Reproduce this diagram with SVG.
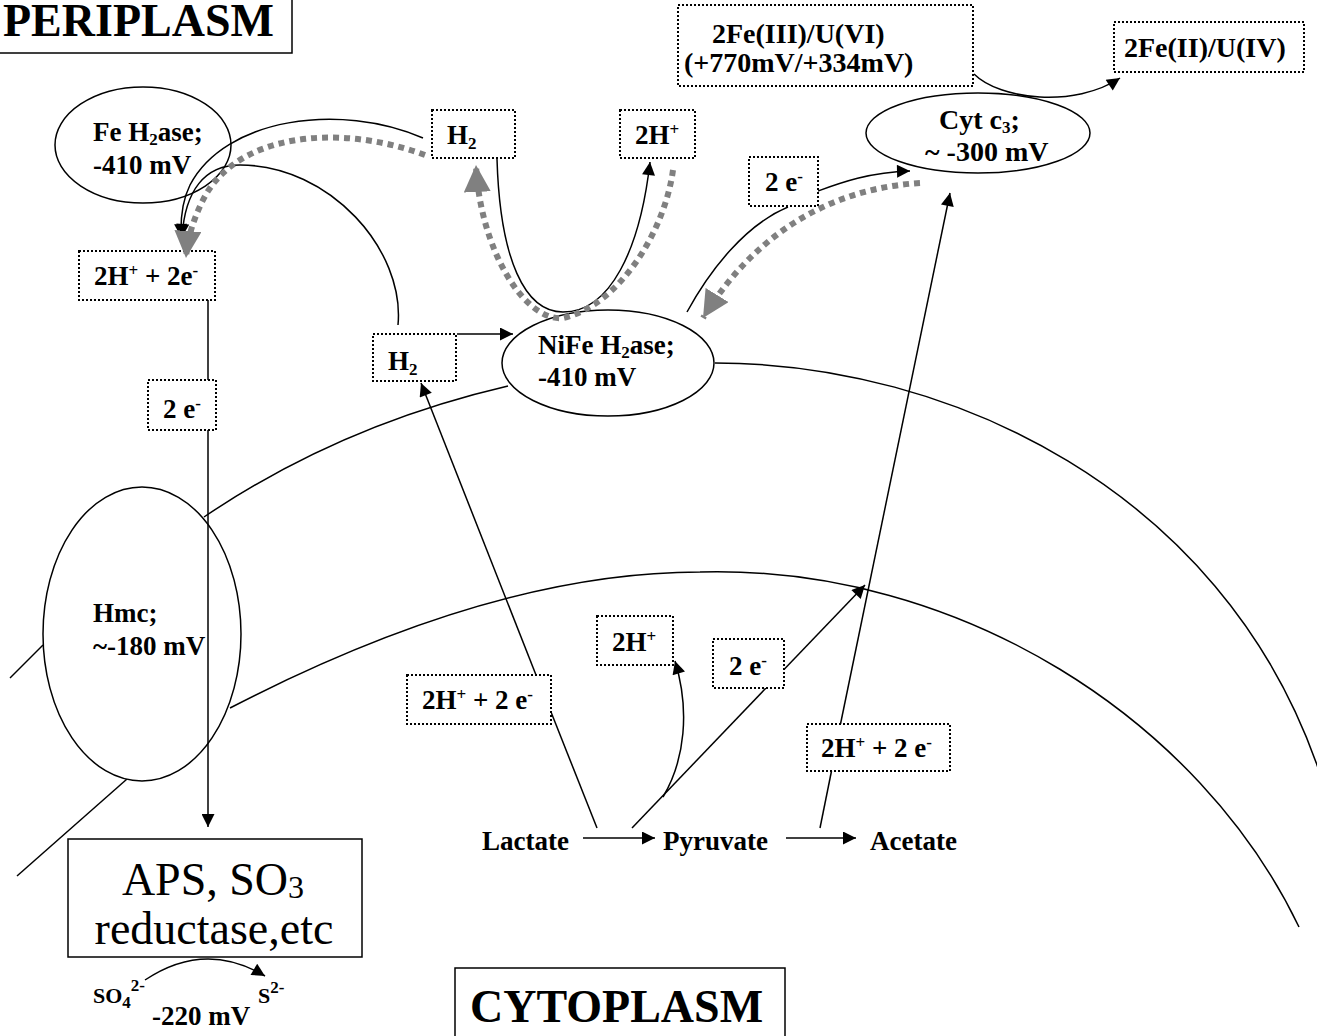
<svg xmlns="http://www.w3.org/2000/svg" width="1317" height="1036" viewBox="0 0 1317 1036">
<style>
text{font-family:"Liberation Serif","Times New Roman",serif;font-weight:bold;font-size:27px;fill:#000}
.big{font-size:46px}
.reg{font-weight:normal;font-size:46px}
.mid{font-size:28px}
.small{font-size:22px}
.s{font-size:17px}
.solid{fill:#fff;stroke:#000;stroke-width:1.5}
.dot{fill:#fff;stroke:#000;stroke-width:2;stroke-dasharray:2 2}
.ell{fill:#fff;stroke:#000;stroke-width:1.5}
.mem{fill:none;stroke:#000;stroke-width:1.5}
.ln{fill:none;stroke:#000;stroke-width:1.5}
.arr{marker-end:url(#ah)}
.grey{fill:none;stroke:#808080;stroke-width:6;stroke-dasharray:6 5;marker-end:url(#gh)}
</style>
<defs>
<marker id="ah" viewBox="0 0 10 10" refX="10" refY="5" markerWidth="15" markerHeight="13" markerUnits="userSpaceOnUse" orient="auto"><path d="M0,0 L10,5 L0,10 z" fill="#000"/></marker>
<marker id="gh" viewBox="0 0 10 10" refX="10" refY="5" markerWidth="27" markerHeight="27" markerUnits="userSpaceOnUse" orient="auto"><path d="M0,0 L10,5 L0,10 z" fill="#808080"/></marker>
</defs>
<rect width="1317" height="1036" fill="#fff"/>
<g id="membranes">
<path class="mem" d="M10,678 L43,645"/>
<path class="mem" d="M204,517 Q340,425 508,386"/>
<path class="mem" d="M715,363 C950,363 1220,490 1317,765 L1330,800"/>
<path class="mem" d="M17,876 L127,779"/>
<path class="mem" d="M230,708 C400,620 560,572 700,572 C960,565 1200,720 1299,927"/>
</g>
<g id="fe-h2ase"><ellipse class="ell" cx="143" cy="145" rx="88" ry="58"/>
<text x="93" y="141">Fe H<tspan class="s" dy="4">2</tspan><tspan dy="-4">ase;</tspan></text>
<text x="93" y="174">-410 mV</text></g>
<g id="nife-h2ase"><ellipse class="ell" cx="608" cy="363" rx="106" ry="53"/>
<text x="538" y="354">NiFe H<tspan class="s" dy="4">2</tspan><tspan dy="-4">ase;</tspan></text>
<text x="538" y="386">-410 mV</text></g>
<g id="cyt-c3"><ellipse class="ell" cx="978" cy="133" rx="112" ry="40"/>
<text class="mid" x="939" y="129">Cyt c<tspan class="s" dy="4">3</tspan><tspan dy="-4">;</tspan></text>
<text class="mid" x="925" y="161">~ -300 mV</text></g>
<g id="hmc"><ellipse class="ell" cx="142" cy="634" rx="99" ry="147"/>
<text x="93" y="622">Hmc;</text>
<text x="93" y="655">~-180 mV</text></g>
<g id="connectors-through">
<path class="ln" d="M208,300 L208,380"/>
<path class="ln arr" d="M208,430 L208,827"/>
<path class="ln" d="M597,828 L551,712"/>
<path class="ln arr" d="M536,675 L421,383"/>
<path class="ln" d="M632,828 L766,688"/>
<path class="ln arr" d="M784,669.5 L865,585"/>
<path class="ln" d="M820,828 L831.5,771"/>
<path class="ln arr" d="M840.5,724 L950,193"/>
<path class="ln" d="M687,312 C710,270 745,225 788,207"/>
<path class="ln arr" d="M818,191 C840,183 870,172 910,171"/>
</g>
<g id="periplasm"><rect class="solid" x="-1" y="-1" width="293" height="54"/><text class="big" x="3" y="36">PERIPLASM</text></g>
<g id="cytoplasm"><rect class="solid" x="455" y="968" width="330" height="80"/><text class="big" x="470" y="1022">CYTOPLASM</text></g>
<g id="aps"><rect class="solid" x="68" y="839" width="294" height="118"/>
<text class="reg" x="213" y="895" text-anchor="middle">APS, SO<tspan font-size="32" dy="3">3</tspan></text>
<text class="reg" x="214" y="944" text-anchor="middle">reductase,etc</text></g>
<g id="h2-top"><rect class="dot" x="432" y="110" width="83" height="48"/><text x="447" y="144">H<tspan class="s" dy="5">2</tspan></text></g>
<g id="h-top"><rect class="dot" x="620" y="110" width="75" height="48"/><text x="635" y="144">2H<tspan class="s" dy="-9">+</tspan></text></g>
<g id="fe3-u6"><rect class="dot" x="678" y="5" width="295" height="81"/><text class="mid" x="712" y="43">2Fe(III)/U(VI)</text><text class="mid" x="684" y="72">(+770mV/+334mV)</text></g>
<g id="fe2-u4"><rect class="dot" x="1114" y="22" width="190" height="50"/><text class="mid" x="1124" y="57">2Fe(II)/U(IV)</text></g>
<g id="e-upper"><rect class="dot" x="749" y="157" width="69" height="49"/><text x="765" y="191">2 e<tspan class="s" dy="-9">-</tspan></text></g>
<g id="h-e-top"><rect class="dot" x="79" y="251" width="136" height="49"/><text x="94" y="285">2H<tspan class="s" dy="-9">+</tspan><tspan dy="9"> + 2e</tspan><tspan class="s" dy="-9">-</tspan></text></g>
<g id="e-left"><rect class="dot" x="148" y="380" width="68" height="50"/><text x="163" y="418">2 e<tspan class="s" dy="-9">-</tspan></text></g>
<g id="h2-left"><rect class="dot" x="373" y="334" width="83" height="47"/><text x="388" y="370">H<tspan class="s" dy="5">2</tspan></text></g>
<g id="h-lower"><rect class="dot" x="597" y="616" width="76" height="49"/><text x="612" y="651">2H<tspan class="s" dy="-9">+</tspan></text></g>
<g id="e-lower"><rect class="dot" x="713" y="639" width="71" height="49"/><text x="729" y="675">2 e<tspan class="s" dy="-9">-</tspan></text></g>
<g id="h-e-ll"><rect class="dot" x="407" y="675" width="144" height="49"/><text x="422" y="709">2H<tspan class="s" dy="-9">+</tspan><tspan dy="9"> + 2 e</tspan><tspan class="s" dy="-9">-</tspan></text></g>
<g id="h-e-lr"><rect class="dot" x="807" y="724" width="143" height="47"/><text x="821" y="757">2H<tspan class="s" dy="-9">+</tspan><tspan dy="9"> + 2 e</tspan><tspan class="s" dy="-9">-</tspan></text></g>
<g id="lactate"><text x="482" y="850">Lactate</text></g>
<g id="pyruvate"><text x="663" y="850">Pyruvate</text></g>
<g id="acetate"><text x="870" y="850">Acetate</text></g>
<g id="so4"><text class="small" x="93" y="1003">SO<tspan class="s" dy="5">4</tspan><tspan class="s" dy="-17">2-</tspan></text></g>
<g id="s2"><text class="small" x="258" y="1003">S<tspan class="s" dy="-10">2-</tspan></text></g>
<g id="mv220"><text x="152" y="1025">-220 mV</text></g>
<g id="connectors">
<path class="ln arr" d="M423,138 C340,102 225,118 190,185 Q180,205 181,237"/>
<path class="ln arr" d="M398,325 C405,250 330,165 240,165 C205,165 185,190 182,237"/>
<path class="ln arr" d="M497,159 C500,260 525,312 563,312 C610,312 640,250 650,162"/>
<path class="ln arr" d="M974,74 C1000,100 1075,108 1120,78"/>
<path class="ln arr" d="M457,334 L513,334"/>
<path class="ln arr" d="M663,797 C685,760 690,710 675,661"/>
<path class="ln arr" d="M583,838 L655,838"/>
<path class="ln arr" d="M786,838 L856,838"/>
<path class="ln arr" d="M145,980 Q205,940 265,976"/>
<path class="grey" d="M425,155 C335,122 235,135 203,200 Q188,230 186,258"/>
<path class="grey" d="M673,170 C665,230 620,305 563,318 C525,322 480,250 476,165"/>
<path class="grey" d="M920,183 C840,188 760,225 703,318"/>
</g>
</svg>
